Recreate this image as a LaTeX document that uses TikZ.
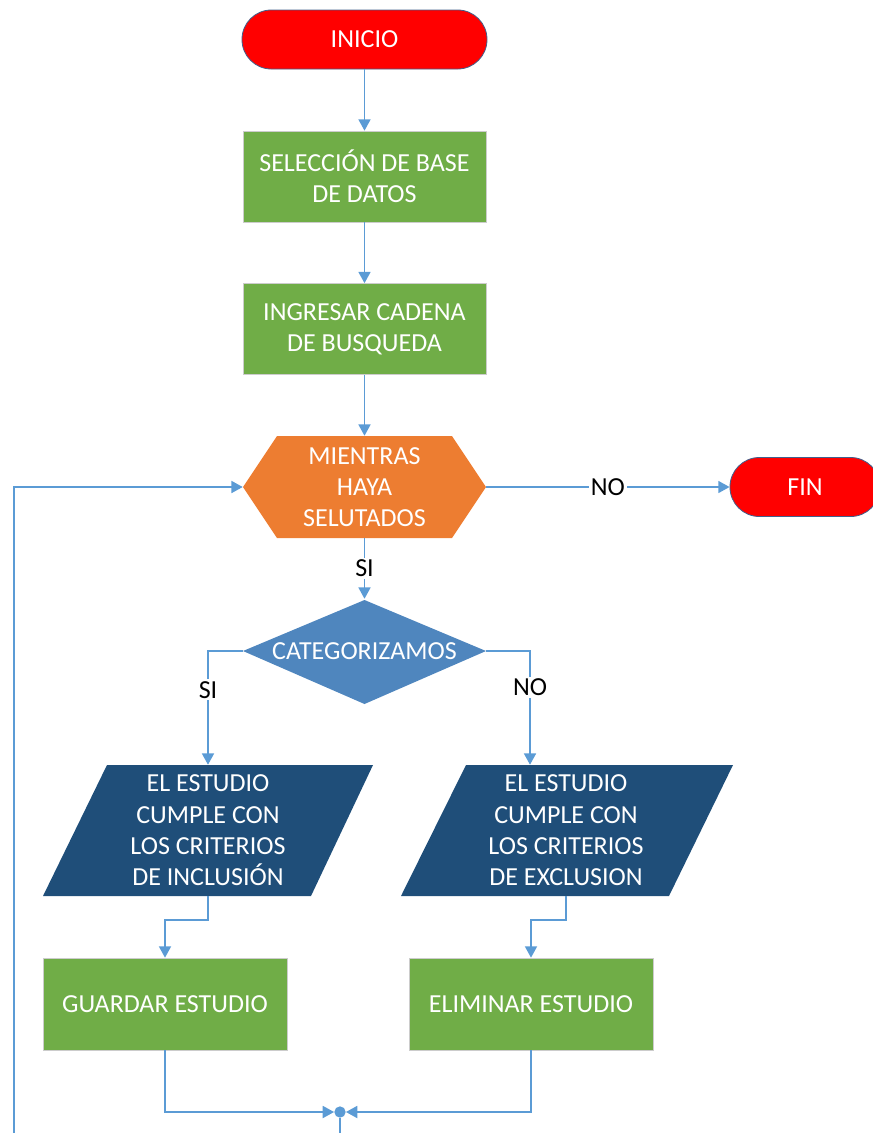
\documentclass[tikz,border=0pt]{standalone}
\usepackage{fontspec}
\setmainfont{Carlito}
\usetikzlibrary{arrows.meta}
\definecolor{cred}{HTML}{FF0000}
\definecolor{cgreen}{HTML}{70AD47}
\definecolor{corange}{HTML}{ED7D31}
\definecolor{cdia}{HTML}{4F86BE}
\definecolor{cpar}{HTML}{1F4E79}
\definecolor{carrow}{HTML}{5B9BD5}
\definecolor{cborder}{HTML}{41608C}
\begin{document}
\begin{tikzpicture}[x=0.75pt,y=-0.75pt,
  every node/.style={font=\fontsize{19.5}{23.5}\selectfont},
  term/.style={rectangle, rounded corners=22pt, fill=cred, draw=cborder, line width=0.6pt,
    minimum height=44.25pt, text=white, inner sep=0pt},
  proc/.style={rectangle, fill=cgreen, draw=black!20, line width=0.5pt, minimum width=182.25pt,
    minimum height=68.25pt, text=white, align=center, inner sep=0pt},
  txt/.style={rectangle, text=white, align=center, inner sep=0pt},
  lbl/.style={fill=white, text=black, inner sep=1.5pt},
  conn/.style={draw=carrow, line width=1.3pt},
  arr/.style={conn, -{Triangle[width=9pt,length=8.5pt]}}]
\useasboundingbox (0,0) rectangle (873,1133);

% start / end
\node[term, minimum width=183.75pt] (ini) at (364.5,39.5) {INICIO};
\node[term, minimum width=112.5pt] (fin) at (805,487) {FIN};

% process boxes
\node[proc] (sel) at (364.5,176.5) {SELECCIÓN DE BASE\\DE DATOS};
\node[proc] (ing) at (364.5,329) {INGRESAR CADENA\\DE BUSQUEDA};

% hexagon (loop)
\fill[corange] (243,487) -- (277,436) -- (452,436) -- (486,487) -- (452,538) -- (277,538) -- cycle;
\node[txt, minimum width=182.25pt, minimum height=76.5pt] (hex) at (364.5,487) {MIENTRAS\\HAYA\\SELUTADOS};

% decision
\fill[cdia] (364.5,600) -- (486,651) -- (364.5,704) -- (243,651) -- cycle;
\node[txt, minimum width=182.25pt, minimum height=78pt] (cat) at (364.5,651) {CATEGORIZAMOS};

% parallelograms
\fill[cpar] (107,765) -- (373,765) -- (311,896) -- (43,896) -- cycle;
\node[txt, minimum width=150pt, minimum height=98.25pt] (p1) at (208,830.5) {EL ESTUDIO\\CUMPLE CON\\LOS CRITERIOS\\DE INCLUSIÓN};
\fill[cpar] (466,765) -- (733,765) -- (669,896) -- (401,896) -- cycle;
\node[txt, minimum width=150pt, minimum height=98.25pt] (p2) at (566,830.5) {EL ESTUDIO\\CUMPLE CON\\LOS CRITERIOS\\DE EXCLUSION};

% action boxes
\node[proc, minimum width=183pt, minimum height=69pt] (gua) at (165,1004) {GUARDAR ESTUDIO};
\node[proc, minimum width=183pt, minimum height=69pt] (eli) at (531,1004) {ELIMINAR ESTUDIO};

% junction
\node[circle, fill=carrow, inner sep=0pt, minimum size=8.5pt] (j) at (340,1112) {};
\coordinate (b1) at (14,1133);
\coordinate (b2) at (340,1133);

% connectors
\draw[arr] (ini) -- (sel);
\draw[arr] (sel) -- (ing);
\draw[arr] (ing) -- (hex);
\draw[arr] (hex.east) -- node[lbl]{NO} (fin.west);
\draw[arr] (hex.south) -- node[lbl]{SI} (cat.north);
\draw[arr] (cat.west) -| node[lbl, pos=0.67]{SI} (p1.north);
\draw[arr] (cat.east) -| node[lbl, pos=0.66]{NO} ([xshift=-27pt]p2.north);
\draw[arr] (p1.south) -- ++(0,24) -| (gua.north);
\draw[arr] (p2.south) -- ++(0,24) -| (eli.north);
\draw[arr] (gua.south) |- (j.west);
\draw[arr] (eli.south) |- (j.east);
\draw[conn] (j) -- (b2);
\draw[arr] (b1) |- (hex.west);
\end{tikzpicture}
\end{document}
